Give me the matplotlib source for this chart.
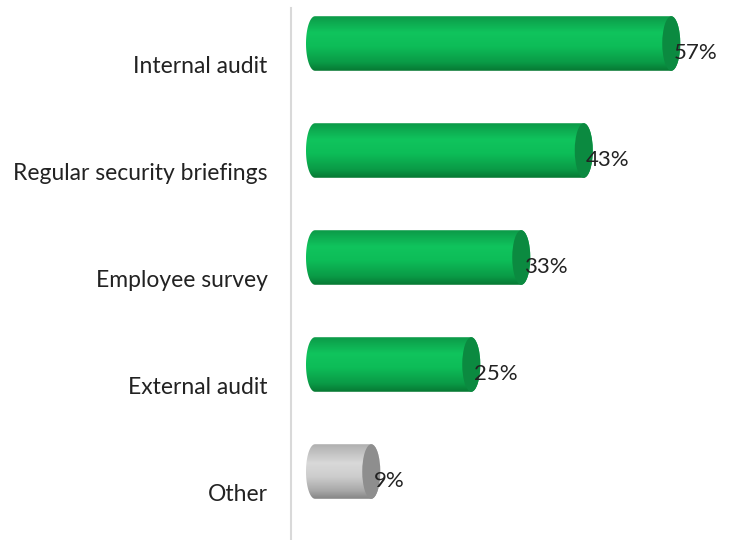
import numpy as np
import matplotlib as mpl
mpl.use('Agg')
import matplotlib.pyplot as plt
from matplotlib.path import Path
from matplotlib.patches import PathPatch, Ellipse
from matplotlib.colors import LinearSegmentedColormap

mpl.rcParams['font.family'] = ['Lato', 'DejaVu Sans']

# Data
categories = ['Internal audit', 'Regular security briefings', 'Employee survey',
              'External audit', 'Other']
values = [57, 43, 33, 25, 9]
is_other = [False, False, False, False, True]

# Shading ramps (top edge -> highlight -> bottom edge)
green_body = LinearSegmentedColormap.from_list(
    'gb', [(0, '#0c9a48'), (0.3, '#10c45d'), (0.55, '#0dbd58'), (0.85, '#0a9a46'), (1, '#077833')])
grey_body = LinearSegmentedColormap.from_list(
    'yb', [(0, '#b0b0b0'), (0.35, '#d9d9d9'), (0.6, '#cccccc'), (0.85, '#a8a8a8'), (1, '#858585')])
green_cap = '#0b8a40'
grey_cap = '#8e8e8e'

fig = plt.figure(figsize=(7.34, 5.40), dpi=100)
ax = fig.add_axes([291 / 734, 0, 1 - 291 / 734, 1 - 8 / 540])

px = 6.25                  # pixels per percent
ew = 9 / px                # ellipse half-width in %
h = 0.51                   # bar height (category units)
x0 = -(315 - 291) / px
ax.set_xlim(x0, x0 + (734 - 291) / px)
ax.set_ylim((540 - 43.5) / 107, (8 - 43.5) / 107)

grad = np.linspace(0, 1, 200).reshape(-1, 1)
t = np.linspace(np.pi / 2, 3 * np.pi / 2, 40)

for i, (v, oth) in enumerate(zip(values, is_other)):
    cmap = grey_body if oth else green_body
    cap = grey_cap if oth else green_cap
    # outline of the cylinder body: left half ellipse + right half ellipse
    left = np.column_stack([ew * np.cos(t), i - (h / 2) * np.sin(t)])
    right = np.column_stack([v - ew * np.cos(t), i + (h / 2) * np.sin(t)])
    verts = np.vstack([left, right, left[:1]])
    codes = [Path.MOVETO] + [Path.LINETO] * (len(verts) - 2) + [Path.CLOSEPOLY]
    body = PathPatch(Path(verts, codes), facecolor='none', edgecolor='none')
    ax.add_patch(body)
    im = ax.imshow(grad, cmap=cmap, aspect='auto', origin='upper',
                   extent=(-ew, v + ew, i + h / 2, i - h / 2), zorder=2)
    im.set_clip_path(body)
    ax.add_patch(Ellipse((v, i), 2 * ew, h, facecolor=cap, edgecolor='none', zorder=3))
    ax.text(v + 0.4, i + 0.085, f'{v}%', fontsize=16, color='#222222',
            ha='left', va='center', zorder=4)

ax.set_yticks(np.arange(len(categories)) + 0.2)
ax.set_yticklabels(categories, fontsize=16.5, color='#222222')
ax.tick_params(axis='y', length=0, pad=17)
ax.set_xticks([])
for s in ['top', 'right', 'bottom']:
    ax.spines[s].set_visible(False)
ax.spines['left'].set_color('#d9d9d9')
ax.spines['left'].set_linewidth(1.5)

fig.savefig('out.png', dpi=100)
